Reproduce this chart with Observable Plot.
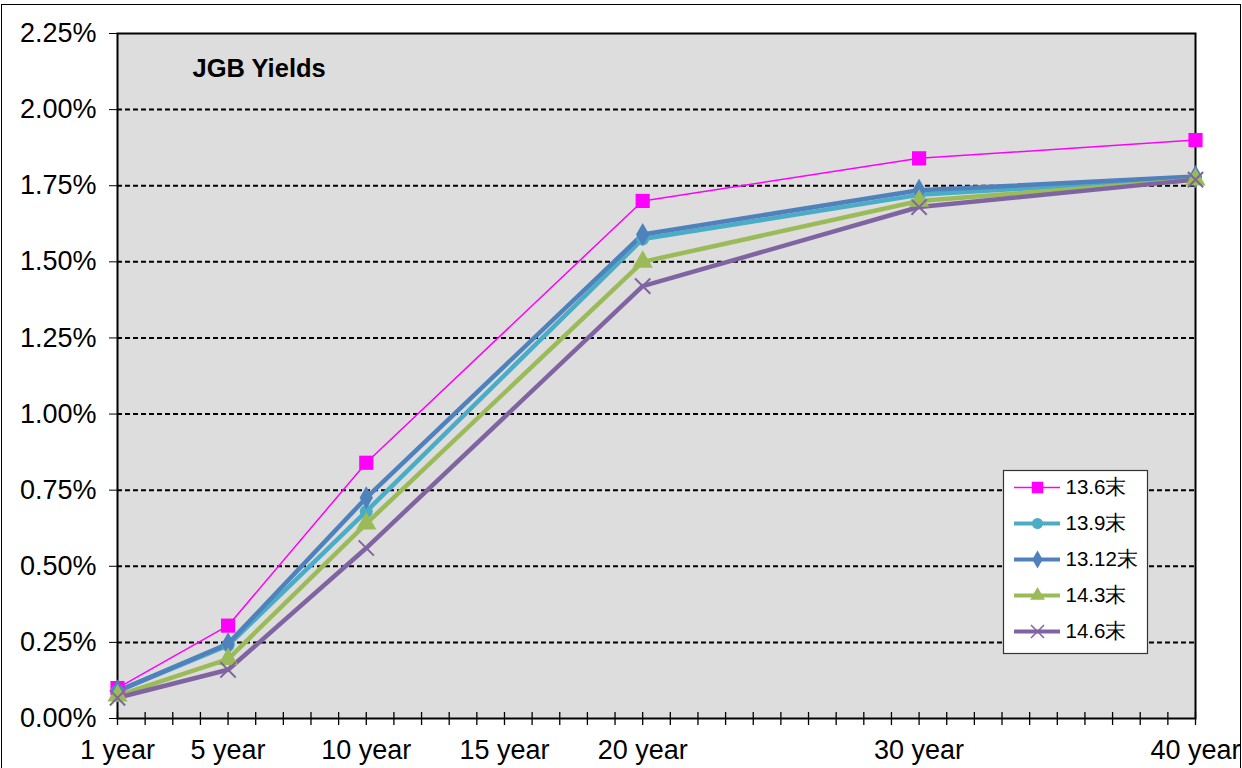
<!DOCTYPE html>
<html><head><meta charset="utf-8">
<script src="https://cdn.jsdelivr.net/npm/d3@7"></script>
<script src="https://cdn.jsdelivr.net/npm/@observablehq/plot@0.6"></script>
<style>
body{margin:0;background:#fff;font-family:"Liberation Sans",Arial,sans-serif}
#wrap{position:relative;width:1242px;height:768px;overflow:hidden}
#outer{position:absolute;left:1px;top:4px;width:1240px;height:800px;border:1.5px solid #000;box-sizing:border-box}
#chart{position:absolute;left:0;top:0}
#legend{position:absolute;left:1003px;top:470px}
</style></head><body><div id="wrap"><div id="outer"></div><div id="chart"></div><div id="legend"></div></div>
<script>
// ---- data ----
const maturities = [1, 5, 10, 20, 30, 40];
const seriesNames = ["13.6末", "13.9末", "13.12末", "14.3末", "14.6末"];
const y_13_6  = [0.10, 0.305, 0.84, 1.70, 1.84, 1.90];
const y_13_9  = [0.09, 0.240, 0.68, 1.575, 1.72, 1.775];
const y_13_12 = [0.09, 0.245, 0.725, 1.59, 1.735, 1.78];
const y_14_3  = [0.075, 0.195, 0.64, 1.50, 1.70, 1.77];
const y_14_6  = [0.068, 0.160, 0.56, 1.42, 1.68, 1.77];
const yTicks = [0, 0.25, 0.5, 0.75, 1.0, 1.25, 1.5, 1.75, 2.0, 2.25];
const xLabelTicks = [1, 5, 10, 15, 20, 30, 40];
const xMinorTicks = d3.range(1, 41);
const title = "JGB Yields";

// ---- styles ----
const colors = ["#ff00ff", "#4bacc6", "#4f81bd", "#9bbb59", "#8064a2"];
const symbols = ["square", "circle", "diamond", "triangle", "times"];
const widths = [1.5, 4.5, 4.5, 4.5, 4.5];
const radii = [8, 6.5, 7, 7.5, 7];

const seriesValues = [y_13_6, y_13_9, y_13_12, y_14_3, y_14_6];
const rows = seriesNames.map((s, i) => maturities.map((m, j) => ({series: s, x: m, y: seriesValues[i][j]})));

const font = "'Liberation Sans', Arial, sans-serif";
const W = 1242, H = 768, mL = 117, mR = 47, mT = 33, mB = 50;
const plotH = H - mT - mB;

const marks = [
  Plot.frame({fill: "#dddddd"}),
  Plot.gridY(yTicks.filter(d => d > 0 && d < 2.25), {stroke: "#000", strokeOpacity: 1, strokeWidth: 2, strokeDasharray: "5,3"}),
  Plot.axisY(yTicks, {tickSize: 8, tickPadding: 13, tickFormat: d => d.toFixed(2) + "%", fontSize: 27, color: "#000", label: null}),
  Plot.tickX(xMinorTicks, {x: d => d, stroke: "#000", strokeWidth: 1.3, insetTop: plotH - 6, insetBottom: -7}),
  Plot.axisX(xLabelTicks, {tickSize: 0, tickPadding: 21, tickFormat: d => d + " year", fontSize: 27, color: "#000", label: null}),
  Plot.frame({stroke: "#000", strokeWidth: 2}),
  Plot.text([title], {frameAnchor: "top-left", dx: 75, dy: 25, fontSize: 25.5, fontWeight: "bold", fill: "#000"})
];
rows.forEach((r, i) => {
  marks.push(Plot.line(r, {x: "x", y: "y", stroke: colors[i], strokeWidth: widths[i], strokeLinejoin: "round"}));
});
rows.forEach((r, i) => {
  if (symbols[i] === "times") {
    marks.push(Plot.dot(r, {x: "x", y: "y", symbol: "times", r: radii[i], stroke: colors[i], strokeWidth: 2}));
  } else {
    marks.push(Plot.dot(r, {x: "x", y: "y", symbol: symbols[i], r: radii[i], fill: colors[i], stroke: "none"}));
  }
});

const chart = Plot.plot({
  width: W, height: H, marginLeft: mL, marginRight: mR, marginTop: mT, marginBottom: mB,
  x: {domain: [1, 40], axis: null, label: null},
  y: {domain: [0, 2.25], axis: null, label: null},
  style: {fontFamily: font, background: "transparent", color: "#000", overflow: "visible"},
  marks
});
document.getElementById("chart").appendChild(chart);

// ---- legend ----
const legendPlot = Plot.plot({
  width: 144, height: 183, marginLeft: 0, marginRight: 0, marginTop: 15, marginBottom: 21,
  x: {domain: [0, 1], axis: null},
  y: {type: "point", domain: seriesNames, padding: 0, axis: null},
  style: {fontFamily: font, background: "transparent", overflow: "visible"},
  marks: [
    Plot.frame({fill: "#fff", stroke: "#333", strokeWidth: 1.2, insetTop: -15, insetBottom: -21}),
    ...seriesNames.map((s, i) => Plot.tickY([s], {y: d => d, stroke: colors[i], strokeWidth: widths[i] === 1.5 ? 1.5 : 4, insetLeft: 11, insetRight: 87})),
    ...seriesNames.map((s, i) => symbols[i] === "times"
      ? Plot.dot([s], {y: d => d, frameAnchor: "left", dx: 34, symbol: "times", r: 6, stroke: colors[i], strokeWidth: 1.5})
      : Plot.dot([s], {y: d => d, frameAnchor: "left", dx: 34, symbol: symbols[i], r: symbols[i] === "square" ? 6.5 : 5.5, fill: colors[i]})),
    Plot.text(seriesNames, {y: d => d, text: d => d, frameAnchor: "left", dx: 62, textAnchor: "start", fontSize: 20.5, fill: "#000"})
  ]
});
document.getElementById("legend").appendChild(legendPlot);
</script></body></html>
